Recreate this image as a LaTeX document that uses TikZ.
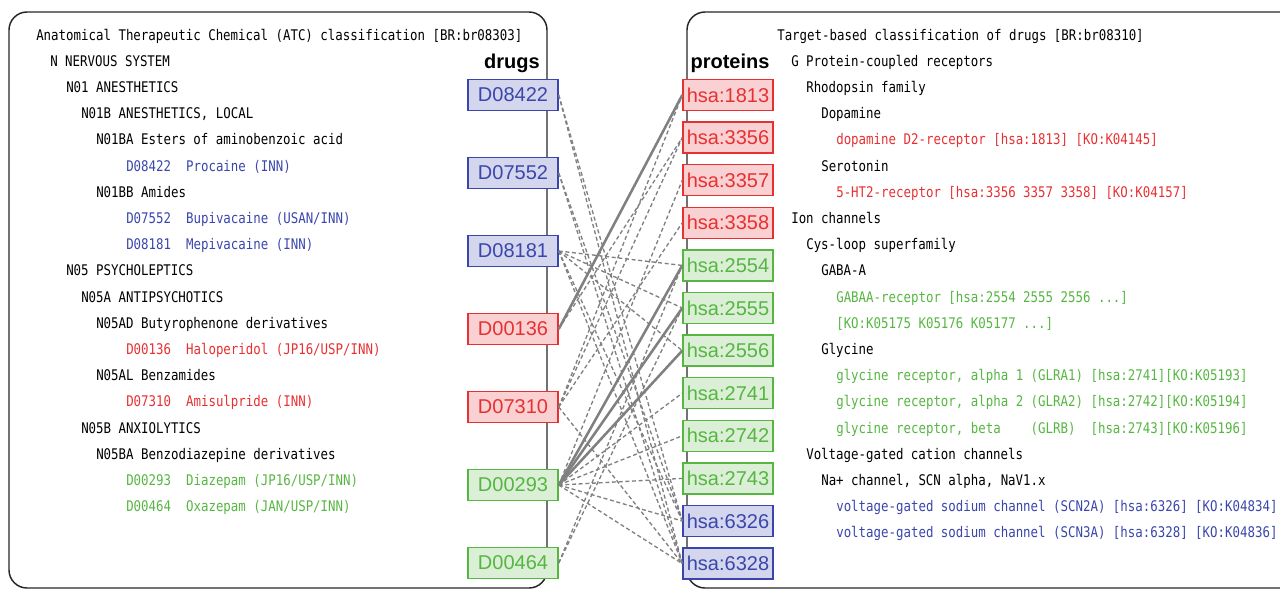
\documentclass[tikz,border=0pt]{standalone}
\usepackage{fontspec}
\setmainfont{Liberation Sans}
\newfontfamily\treefont{DejaVu Sans Mono}[FakeStretch=0.847]
\usetikzlibrary{positioning}

\definecolor{kblue}{RGB}{58,70,172}
\definecolor{kred}{RGB}{232,48,50}
\definecolor{kgreen}{RGB}{86,182,66}
\definecolor{linkgray}{RGB}{128,128,128}

\begin{document}
\begin{tikzpicture}[x=0.75pt, y=-0.75pt,
			node distance=34.15pt,
			panel/.style={draw=black!85, line width=1.1pt, rounded corners=13.5pt},
			boxnode/.style={rectangle, draw=#1, fill=#1!22, text=#1, line width=1.1pt, minimum width=67.5pt, minimum height=23.25pt, inner sep=0pt, font=\fontsize{15}{15}\selectfont},
			headnode/.style={anchor=base, inner sep=0pt, font=\fontsize{15}{15}\selectfont\bfseries},
			treenode/.style={anchor=base west, inner sep=0pt, font=\fontsize{11}{13}\treefont},
			hit/.style={draw=linkgray, line width=1.9pt},
			maybe/.style={draw=linkgray, line width=1pt, dash pattern=on 3pt off 2pt},
			]
			\useasboundingbox (0,0) rectangle (1280,590);

			%Panels
			\draw[panel] (9,12) rectangle (547,588);
			\draw[panel] (687,12) rectangle (1320,588);

			%ATC tree
			\node[treenode] (atc0)  at (36,40)    {Anatomical Therapeutic Chemical (ATC) classification [BR:br08303]};
			\node[treenode] (atc1)  at (50,66.2)  {N NERVOUS SYSTEM};
			\node[treenode] (atc2)  at (66,92.4)  {N01 ANESTHETICS};
			\node[treenode] (atc3)  at (81,118.6) {N01B ANESTHETICS, LOCAL};
			\node[treenode] (atc4)  at (96,144.8) {N01BA Esters of aminobenzoic acid};
			\node[treenode, text=kblue] (atc5)  at (126,171) {D08422\ \ Procaine (INN)};
			\node[treenode] (atc6)  at (96,197.2) {N01BB Amides};
			\node[treenode, text=kblue] (atc7)  at (126,223.4) {D07552\ \ Bupivacaine (USAN/INN)};
			\node[treenode, text=kblue] (atc8)  at (126,249.6) {D08181\ \ Mepivacaine (INN)};
			\node[treenode] (atc9)  at (66,275.8) {N05 PSYCHOLEPTICS};
			\node[treenode] (atc10) at (81,302)   {N05A ANTIPSYCHOTICS};
			\node[treenode] (atc11) at (96,328.2) {N05AD Butyrophenone derivatives};
			\node[treenode, text=kred] (atc12) at (126,354.4) {D00136\ \ Haloperidol (JP16/USP/INN)};
			\node[treenode] (atc13) at (96,380.6) {N05AL Benzamides};
			\node[treenode, text=kred] (atc14) at (126,406.8) {D07310\ \ Amisulpride (INN)};
			\node[treenode] (atc15) at (81,433)   {N05B ANXIOLYTICS};
			\node[treenode] (atc16) at (96,459.2) {N05BA Benzodiazepine derivatives};
			\node[treenode, text=kgreen] (atc17) at (126,485.4) {D00293\ \ Diazepam (JP16/USP/INN)};
			\node[treenode, text=kgreen] (atc18) at (126,511.6) {D00464\ \ Oxazepam (JAN/USP/INN)};

			%Target tree
			\node[treenode] (tgt0)  at (777,40)    {Target-based classification of drugs [BR:br08310]};
			\node[treenode] (tgt1)  at (791,66.2)  {G Protein-coupled receptors};
			\node[treenode] (tgt2)  at (806,92.4)  {Rhodopsin family};
			\node[treenode] (tgt3)  at (821,118.6) {Dopamine};
			\node[treenode, text=kred] (tgt4)  at (836,144.8) {dopamine D2-receptor [hsa:1813] [KO:K04145]};
			\node[treenode] (tgt5)  at (821,171)   {Serotonin};
			\node[treenode, text=kred] (tgt6)  at (836,197.2) {5-HT2-receptor [hsa:3356 3357 3358] [KO:K04157]};
			\node[treenode] (tgt7)  at (791,223.4) {Ion channels};
			\node[treenode] (tgt8)  at (806,249.6) {Cys-loop superfamily};
			\node[treenode] (tgt9)  at (821,275.8) {GABA-A};
			\node[treenode, text=kgreen] (tgt10) at (836,302)   {GABAA-receptor [hsa:2554 2555 2556 ...]};
			\node[treenode, text=kgreen] (tgt11) at (836,328.2) {[KO:K05175 K05176 K05177 ...]};
			\node[treenode] (tgt12) at (821,354.4) {Glycine};
			\node[treenode, text=kgreen] (tgt13) at (836,380.6) {glycine receptor, alpha 1 (GLRA1) [hsa:2741][KO:K05193]};
			\node[treenode, text=kgreen] (tgt14) at (836,406.8) {glycine receptor, alpha 2 (GLRA2) [hsa:2742][KO:K05194]};
			\node[treenode, text=kgreen] (tgt15) at (836,433)   {glycine receptor, beta\ \ \ \ (GLRB)\ \ [hsa:2743][KO:K05196]};
			\node[treenode] (tgt16) at (806,459.2) {Voltage-gated cation channels};
			\node[treenode] (tgt17) at (821,485.4) {Na+ channel, SCN alpha, NaV1.x};
			\node[treenode, text=kblue] (tgt18) at (836,511.6) {voltage-gated sodium channel (SCN2A) [hsa:6326] [KO:K04834]};
			\node[treenode, text=kblue] (tgt19) at (836,537.8) {voltage-gated sodium channel (SCN3A) [hsa:6328] [KO:K04836]};

			%Headings
			\node[headnode] (drugs)    at (512,68) {drugs};
			\node[headnode] (proteins) at (730,68) {proteins};

			%Drug nodes
			\node[boxnode=kblue]  (d08422) at (513,95)      {D08422};
			\node[boxnode=kblue]  (d07552) [below=of d08422] {D07552};
			\node[boxnode=kblue]  (d08181) [below=of d07552] {D08181};
			\node[boxnode=kred]   (d00136) [below=of d08181] {D00136};
			\node[boxnode=kred]   (d07310) [below=of d00136] {D07310};
			\node[boxnode=kgreen] (d00293) [below=of d07310] {D00293};
			\node[boxnode=kgreen] (d00464) [below=of d00293] {D00464};

			%Protein nodes
			\node[boxnode=kred]   (h1813) at (728,95)            {hsa:1813};
			\node[boxnode=kred]   (h3356) [below=7.6pt of h1813] {hsa:3356};
			\node[boxnode=kred]   (h3357) [below=7.6pt of h3356] {hsa:3357};
			\node[boxnode=kred]   (h3358) [below=7.6pt of h3357] {hsa:3358};
			\node[boxnode=kgreen] (h2554) [below=7.6pt of h3358] {hsa:2554};
			\node[boxnode=kgreen] (h2555) [below=7.6pt of h2554] {hsa:2555};
			\node[boxnode=kgreen] (h2556) [below=7.6pt of h2555] {hsa:2556};
			\node[boxnode=kgreen] (h2741) [below=7.6pt of h2556] {hsa:2741};
			\node[boxnode=kgreen] (h2742) [below=7.6pt of h2741] {hsa:2742};
			\node[boxnode=kgreen] (h2743) [below=7.6pt of h2742] {hsa:2743};
			\node[boxnode=kblue]  (h6326) [below=7.6pt of h2743] {hsa:6326};
			\node[boxnode=kblue]  (h6328) [below=7.6pt of h6326] {hsa:6328};

			%Links
			\foreach \d/\p in {d08422/h6326, d08422/h6328, d07552/h6326, d07552/h6328,
				d08181/h2554, d08181/h2555, d08181/h2556, d08181/h6326, d08181/h6328,
				d00136/h3356, d07310/h1813, d07310/h3356, d07310/h3358, d07310/h6328,
				d00293/h3357, d00293/h2741, d00293/h2742, d00293/h2743, d00293/h6326, d00293/h6328,
				d00464/h2554, d00464/h2555}
				\draw[maybe] (\d.east) -- (\p.west);
			\foreach \d/\p in {d00136/h1813, d00293/h2554, d00293/h2555, d00293/h2556}
				\draw[hit] (\d.east) -- (\p.west);
		\end{tikzpicture}
\end{document}
